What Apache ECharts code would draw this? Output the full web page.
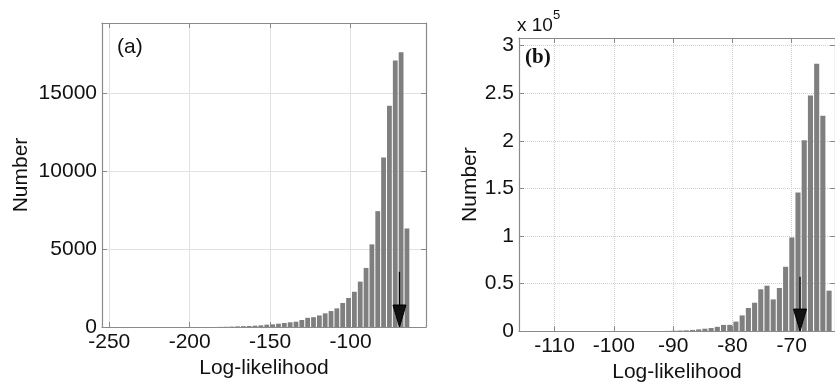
<!DOCTYPE html>
<html>
<head>
<meta charset="utf-8">
<script src="https://cdn.jsdelivr.net/npm/echarts@6/dist/echarts.min.js"></script>
<style>
html,body{margin:0;padding:0;background:#fff;}
#chart{width:835px;height:388px;}
</style>
</head>
<body>
<div id="chart"></div>
<script>
// ---- Panel (a) data ----
const binCentersA = [-181.11, -177.48, -173.85, -170.22, -166.59, -162.96, -159.33, -155.70, -152.07, -148.44,
  -144.81, -141.18, -137.55, -133.92, -130.29, -126.66, -123.03, -119.40, -115.77, -112.14,
  -108.51, -104.88, -101.25, -97.62, -93.99, -90.36, -86.73, -83.10, -79.47, -75.84,
  -72.21, -68.58, -64.95];
const countsA = [8, 15, 25, 40, 55, 64, 85, 107, 150, 170,
  213, 256, 300, 340, 450, 590, 630, 740, 875, 1024,
  1195, 1540, 1860, 2262, 2910, 3790, 5300, 7430, 10880, 14200,
  17100, 17630, 6320];
const binWidthA = 3.63;
const arrowA = [-69.6, 3540];
const xTicksA = [-250, -200, -150, -100];
const yTicksA = [0, 5000, 10000, 15000];

// ---- Panel (b) data ----
const binCentersB = [-90.92, -89.88, -88.83, -87.78, -86.73, -85.69, -84.64, -83.59, -82.55, -81.50,
  -80.45, -79.41, -78.36, -77.31, -76.26, -75.22, -74.17, -73.12, -72.08, -71.03,
  -69.98, -68.94, -67.89, -66.84, -65.79, -64.75, -63.70];
const countsB = [200, 400, 600, 800, 1200, 1800, 2500, 3200, 4500, 6500,
  6600, 10000, 16500, 24300, 29800, 43900, 47700, 33300, 45300, 67600,
  98400, 145700, 200600, 247600, 280900, 226300, 42500];
const binWidthB = 1.047;
const arrowB = [-68.6, 57200];
const xTicksB = [-110, -100, -90, -80, -70];
const yTicksB = [0, 0.5, 1, 1.5, 2, 2.5, 3];

const chart = echarts.init(document.getElementById('chart'));
const FONT = 'Liberation Sans';
const labelStyle = {fontFamily: FONT, fontSize: 21, color: '#111'};
const axisGray = '#8a8a8a';

function barRender(binW) {
  return function (params, api) {
    const c = api.value(0), v = api.value(1);
    const p0 = api.coord([c - binW * 0.41, v]);
    const p1 = api.coord([c + binW * 0.41, 0]);
    return {type: 'rect', shape: {x: p0[0], y: p0[1], width: p1[0] - p0[0], height: p1[1] - p0[1]},
      style: {fill: '#7f7f7f'}};
  };
}
function arrowRender(params, api) {
  const t = api.coord([api.value(0), api.value(1)]);
  const b = api.coord([api.value(0), 0]);
  return {type: 'group', children: [
    {type: 'line', shape: {x1: t[0], y1: t[1], x2: b[0], y2: b[1] - 4}, style: {stroke: '#000', lineWidth: 1.3}},
    {type: 'polygon', shape: {points: [[b[0] - 6.5, b[1] - 22], [b[0] + 6.5, b[1] - 22], [b[0], b[1]]]},
      style: {fill: '#111', stroke: '#000', lineWidth: 1}}
  ]};
}

function mkX(grid, min, max, split, ticks, dashed, pos, main) {
  return {
    type: 'value', gridIndex: grid, min: min, max: max, splitNumber: split, position: pos,
    axisLine: {show: true, onZero: false, lineStyle: {color: axisGray, width: 1.2}},
    axisTick: {show: true, inside: true, length: 5, lineStyle: {color: axisGray}},
    axisLabel: main ? Object.assign({show: true, margin: 5, showMinLabel: false, showMaxLabel: false,
      formatter: v => ticks.indexOf(v) >= 0 ? String(v) : ''}, labelStyle) : {show: false},
    splitLine: main ? {show: true, lineStyle: {color: dashed ? '#cfcfcf' : '#e2e2e2', type: dashed ? 'dotted' : 'solid', width: 1}} : {show: false},
    name: main ? 'Log-likelihood' : '', nameLocation: 'middle', nameGap: 30,
    nameTextStyle: {fontFamily: FONT, fontSize: 21, color: '#111'}
  };
}
function mkY(grid, max, interval, fmt, dashed, pos, main, gap) {
  return {
    type: 'value', gridIndex: grid, min: 0, max: max, interval: interval, position: pos,
    axisLine: {show: true, lineStyle: {color: axisGray, width: 1.2}},
    axisTick: {show: true, inside: true, length: 5, lineStyle: {color: axisGray}},
    axisLabel: main ? Object.assign({show: true, margin: 5, showMaxLabel: false, formatter: fmt}, labelStyle) : {show: false},
    splitLine: main ? {show: true, lineStyle: {color: dashed ? '#cfcfcf' : '#e2e2e2', type: dashed ? 'dotted' : 'solid', width: 1}} : {show: false},
    name: main ? 'Number' : '', nameLocation: 'middle', nameGap: gap,
    nameTextStyle: {fontFamily: FONT, fontSize: 21, color: '#111'}
  };
}

const option = {
  animation: false,
  backgroundColor: '#fff',
  grid: [
    {left: 102, top: 23, width: 324, height: 304, show: false},
    {left: 519, top: 38, width: 318, height: 299.5, show: false}
  ],
  xAxis: [
    mkX(0, -254.5, -53.1, 4, xTicksA, false, 'bottom', true),
    mkX(0, -254.5, -53.1, 4, xTicksA, false, 'top', false),
    mkX(1, -116, -62.7, 5, xTicksB, true, 'bottom', true),
    mkX(1, -116, -62.7, 5, xTicksB, true, 'top', false)
  ],
  yAxis: [
    mkY(0, 19500, 5000, v => yTicksA.indexOf(v) >= 0 ? String(v) : '', false, 'left', true, 70),
    mkY(0, 19500, 5000, null, false, 'right', false, 0),
    mkY(1, 308000, 50000, v => { const s = v / 1e5; return yTicksB.indexOf(s) >= 0 ? String(s) : ''; }, true, 'left', true, 38),
    mkY(1, 308000, 50000, null, true, 'right', false, 0)
  ],
  series: [
    {type: 'custom', xAxisIndex: 0, yAxisIndex: 0, renderItem: barRender(binWidthA), clip: true,
      encode: {x: 0, y: 1}, data: binCentersA.map((c, i) => [c, countsA[i]])},
    {type: 'custom', xAxisIndex: 0, yAxisIndex: 0, renderItem: arrowRender, encode: {x: 0, y: 1}, data: [arrowA], z: 5},
    {type: 'custom', xAxisIndex: 2, yAxisIndex: 2, renderItem: barRender(binWidthB), clip: true,
      encode: {x: 0, y: 1}, data: binCentersB.map((c, i) => [c, countsB[i]])},
    {type: 'custom', xAxisIndex: 2, yAxisIndex: 2, renderItem: arrowRender, encode: {x: 0, y: 1}, data: [arrowB], z: 5}
  ],
  graphic: [
    {type: 'text', left: 117, top: 37, style: {text: '(a)', fontFamily: FONT, fontSize: 21, fill: '#111'}},
    {type: 'text', left: 525, top: 47, style: {text: '(b)', fontFamily: 'Liberation Serif', fontWeight: 'bold', fontSize: 21, fill: '#111'}},
    {type: 'text', left: 517, top: 16, style: {text: 'x 10', fontFamily: FONT, fontSize: 19, fill: '#111'}},
    {type: 'text', left: 553, top: 9, style: {text: '5', fontFamily: FONT, fontSize: 13, fill: '#111'}}
  ]
};
chart.setOption(option);
</script>
</body>
</html>
